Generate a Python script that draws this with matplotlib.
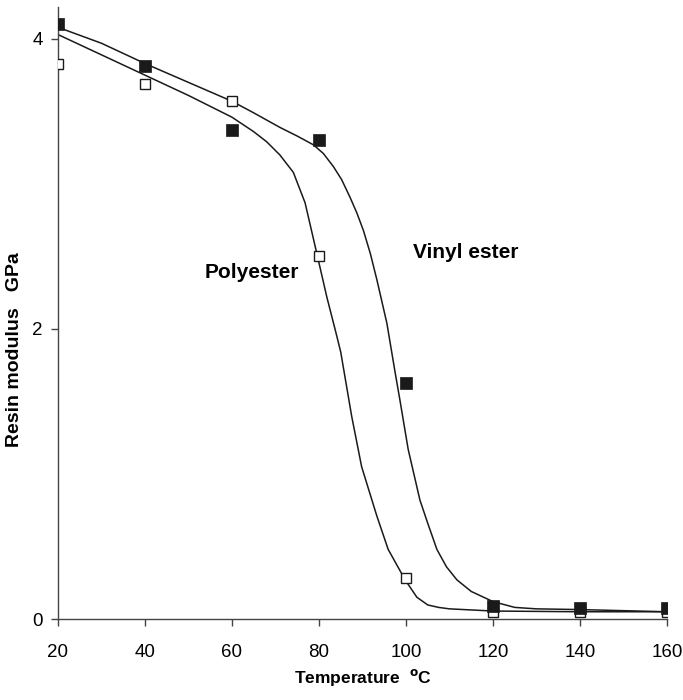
import matplotlib
matplotlib.use("Agg")
import matplotlib.pyplot as plt

plt.rcParams['font.family'] = ['Liberation Sans', 'DejaVu Sans']

# measured points
temp_pts = [20, 40, 60, 80, 100, 120, 140, 160]
vinyl_pts = [4.10, 3.81, 3.37, 3.30, 1.63, 0.09, 0.074, 0.074]
poly_pts = [3.83, 3.69, 3.57, 2.50, 0.28, 0.05, 0.05, 0.05]

# fitted curves
vinyl_curve_t = [20, 30, 40, 50, 60, 65, 71, 75, 78.7, 81, 83.3, 85.2, 87.1, 88.7,
                 90.2, 91.8, 93.3, 95.6, 97.5, 98.6, 100.5, 103.2, 105, 107.1,
                 109.3, 111.7, 115, 120, 125, 130, 140, 160]
vinyl_curve_y = [4.08, 3.97, 3.83, 3.70, 3.57, 3.49, 3.39, 3.33, 3.27, 3.21, 3.12,
                 3.03, 2.91, 2.80, 2.68, 2.52, 2.34, 2.04, 1.70, 1.51, 1.17, 0.82,
                 0.66, 0.48, 0.36, 0.27, 0.19, 0.12, 0.08, 0.07, 0.065, 0.05]
poly_curve_t = [20, 30, 40, 50, 60, 65, 68, 71, 74.1, 76.8, 79.5, 81.8, 84.1, 85,
                87.5, 89.8, 93.3, 95.9, 99.8, 102.5, 105, 107.5, 110, 120, 140, 160]
poly_curve_y = [4.03, 3.89, 3.75, 3.61, 3.46, 3.36, 3.29, 3.20, 3.08, 2.87, 2.52,
                2.22, 1.95, 1.84, 1.40, 1.05, 0.71, 0.48, 0.27, 0.15, 0.097, 0.08,
                0.07, 0.055, 0.05, 0.05]

fig = plt.figure(figsize=(6.83, 7.0), dpi=100)
ax = fig.add_axes([0.0849, 0.1157, 0.8917, 0.8743])

ax.plot(vinyl_curve_t, vinyl_curve_y, color='#1a1a1a', lw=1.1, zorder=2)
ax.plot(poly_curve_t, poly_curve_y, color='#1a1a1a', lw=1.1, zorder=2)
ax.plot(temp_pts, poly_pts, ls='none', marker='s', ms=7.5, mfc='white',
        mec='#1a1a1a', mew=1.0, zorder=3)
ax.plot(temp_pts, vinyl_pts, ls='none', marker='s', ms=8, mfc='#1a1a1a',
        mec='#1a1a1a', mew=0.5, zorder=4)

ax.text(53.8, 2.39, 'Polyester', fontsize=15, fontweight='bold', va='center', ha='left')
ax.text(101.6, 2.53, 'Vinyl ester', fontsize=15, fontweight='bold', va='center', ha='left')

ax.set_xlim(20, 160)
ax.set_ylim(0, 4.22)
ax.set_xticks([20, 40, 60, 80, 100, 120, 140, 160])
ax.set_yticks([0, 2, 4])
ax.spines['top'].set_visible(False)
ax.spines['right'].set_visible(False)
for s in ('left', 'bottom'):
    ax.spines[s].set_color('#444444')
    ax.spines[s].set_linewidth(1.0)
ax.tick_params(axis='x', direction='out', length=5, width=1, color='#444444',
               labelsize=13.5, pad=13)
ax.tick_params(axis='y', direction='out', length=5, width=1, color='#444444',
               labelsize=13.5, pad=6)

fig.text(0.531, 1 - 678 / 700, 'Temperature  $^{\\mathbf{o}}$C', fontsize=12.5,
         fontweight='bold', ha='center', va='center')
fig.text(15 / 683, 1 - 350 / 700, 'Resin modulus   GPa', fontsize=14,
         fontweight='bold', ha='center', va='center', rotation=90)

fig.savefig('out.png', dpi=100)
